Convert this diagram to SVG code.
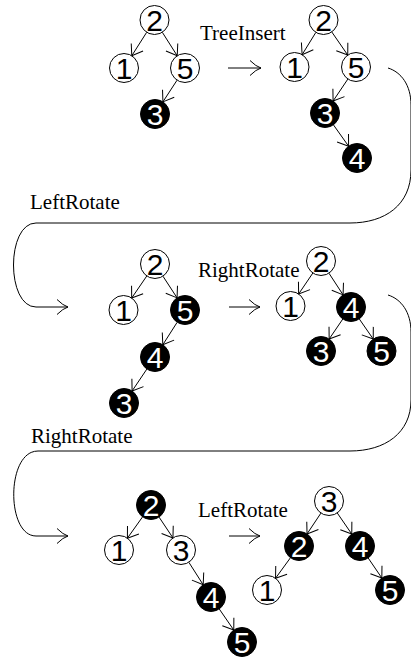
<svg xmlns="http://www.w3.org/2000/svg" width="411" height="660" viewBox="0 0 411 660">
  <style>
    .edge { fill: none; stroke: #000; stroke-width: 1; marker-end: url(#tip); }
    .step { fill: none; stroke: #000; stroke-width: 1; marker-end: url(#tex); }
    .wnode circle { fill: #fff; stroke: #000; stroke-width: 1; }
    .bnode circle { fill: #000; stroke: #000; stroke-width: 1; }
    .wnode text, .bnode text { font-family: "Liberation Sans", Arial, sans-serif; font-size: 30px; text-anchor: middle; }
    .wnode text { fill: #000; }
    .bnode text { fill: #fff; }
    .label { font-family: "Liberation Serif", "Times New Roman", serif; font-size: 21px; fill: #000; }
  </style>
  <defs>
    <marker id="tip" markerUnits="userSpaceOnUse" orient="auto" refX="0" refY="0" viewBox="-12 -9 14 18" markerWidth="14" markerHeight="18" overflow="visible">
      <path d="M -10 -7 L 0 0 L -10 7" fill="none" stroke="#000" stroke-width="1"/>
    </marker>
    <marker id="tex" markerUnits="userSpaceOnUse" orient="auto" refX="0" refY="0" viewBox="-13 -9 15 18" markerWidth="15" markerHeight="18" overflow="visible">
      <path d="M -11 -7.5 Q -5 -1.5 0 0 Q -5 1.5 -11 7.5" fill="none" stroke="#000" stroke-width="1"/>
    </marker>
  </defs>

  <!-- step labels -->
  <g id="labels">
    <text class="label" x="200" y="40">TreeInsert</text>
    <text class="label" x="30" y="209">LeftRotate</text>
    <text class="label" x="198" y="277">RightRotate</text>
    <text class="label" x="31" y="443">RightRotate</text>
    <text class="label" x="198" y="517">LeftRotate</text>
  </g>

  <g id="connectors">
    <!-- transitions between trees -->
    <path class="step" d="M 228 68 L 261 68"/>
    <path class="step" d="M 229 307 L 260 307"/>
    <path class="step" d="M 229 536 L 260 536"/>
    <path class="step" d="M 388 68 C 401 72 411 85 411 105 L 411 170 C 411 205 385 223 350 223 L 36 223 C 6 223 6 307 36 307 L 68 307"/>
    <path class="step" d="M 388 295 C 401 299 411 312 411 332 L 411 400 C 411 433 385 451 350 451 L 38 451 C 6 451 6 536 36 536 L 68 536"/>

    <!-- tree 1 -->
    <path class="edge" d="M 146.72 32.24 L 131.78 55.76"/>
    <path class="edge" d="M 162.28 32.24 L 177.22 55.76"/>
    <path class="edge" d="M 177.08 80.15 L 162.92 101.85"/>
    <!-- tree 2 -->
    <path class="edge" d="M 315.89 32.34 L 302.11 54.66"/>
    <path class="edge" d="M 331.75 31.93 L 347.75 55.07"/>
    <path class="edge" d="M 347.90 79.02 L 333.10 100.98"/>
    <path class="edge" d="M 333.40 124.82 L 348.60 146.18"/>
    <!-- tree 3 -->
    <path class="edge" d="M 146.81 275.96 L 131.69 298.04"/>
    <path class="edge" d="M 162.92 276.15 L 177.08 297.85"/>
    <path class="edge" d="M 177.20 322.22 L 162.80 344.78"/>
    <path class="edge" d="M 146.90 369.02 L 132.10 390.98"/>
    <!-- tree 4 -->
    <path class="edge" d="M 312.86 273.00 L 298.64 294.00"/>
    <path class="edge" d="M 328.92 273.15 L 343.08 294.85"/>
    <path class="edge" d="M 342.83 318.98 L 329.17 339.02"/>
    <path class="edge" d="M 359.26 318.92 L 373.24 339.08"/>
    <!-- tree 5 -->
    <path class="edge" d="M 142.60 516.82 L 127.40 538.18"/>
    <path class="edge" d="M 159.04 517.07 L 172.96 537.93"/>
    <path class="edge" d="M 188.80 562.22 L 203.20 584.78"/>
    <path class="edge" d="M 219.23 608.94 L 233.77 630.06"/>
    <!-- tree 6 -->
    <path class="edge" d="M 320.96 513.07 L 307.04 533.93"/>
    <path class="edge" d="M 337.23 512.94 L 351.77 534.06"/>
    <path class="edge" d="M 290.47 557.73 L 275.53 578.27"/>
    <path class="edge" d="M 368.17 557.98 L 381.83 578.02"/>
  </g>

  <!-- tree 1 -->
  <g id="t1-n2" class="wnode"><circle cx="154.5" cy="20" r="14.5"/><text x="154.5" y="30.7">2</text></g>
  <g id="t1-n1" class="wnode"><circle cx="124" cy="68" r="14.5"/><text x="124" y="78.7">1</text></g>
  <g id="t1-n5" class="wnode"><circle cx="185" cy="68" r="14.5"/><text x="185" y="78.7">5</text></g>
  <g id="t1-n3" class="bnode"><circle cx="155" cy="114" r="14.5"/><text x="155" y="124.7">3</text></g>

  <!-- tree 2 -->
  <g id="t2-n2" class="wnode"><circle cx="323.5" cy="20" r="14.5"/><text x="323.5" y="30.7">2</text></g>
  <g id="t2-n1" class="wnode"><circle cx="294.5" cy="67" r="14.5"/><text x="294.5" y="77.7">1</text></g>
  <g id="t2-n5" class="wnode"><circle cx="356" cy="67" r="14.5"/><text x="356" y="77.7">5</text></g>
  <g id="t2-n3" class="bnode"><circle cx="325" cy="113" r="14.5"/><text x="325" y="123.7">3</text></g>
  <g id="t2-n4" class="bnode"><circle cx="357" cy="158" r="14.5"/><text x="357" y="168.7">4</text></g>

  <!-- tree 3 -->
  <g id="t3-n2" class="wnode"><circle cx="155" cy="264" r="14.5"/><text x="155" y="274.7">2</text></g>
  <g id="t3-n1" class="wnode"><circle cx="123.5" cy="310" r="14.5"/><text x="123.5" y="320.7">1</text></g>
  <g id="t3-n5" class="bnode"><circle cx="185" cy="310" r="14.5"/><text x="185" y="320.7">5</text></g>
  <g id="t3-n4" class="bnode"><circle cx="155" cy="357" r="14.5"/><text x="155" y="367.7">4</text></g>
  <g id="t3-n3" class="bnode"><circle cx="124" cy="403" r="14.5"/><text x="124" y="413.7">3</text></g>

  <!-- tree 4 -->
  <g id="t4-n2" class="wnode"><circle cx="321" cy="261" r="14.5"/><text x="321" y="271.7">2</text></g>
  <g id="t4-n1" class="wnode"><circle cx="290.5" cy="306" r="14.5"/><text x="290.5" y="316.7">1</text></g>
  <g id="t4-n4" class="bnode"><circle cx="351" cy="307" r="14.5"/><text x="351" y="317.7">4</text></g>
  <g id="t4-n3" class="bnode"><circle cx="321" cy="351" r="14.5"/><text x="321" y="361.7">3</text></g>
  <g id="t4-n5" class="bnode"><circle cx="381.5" cy="351" r="14.5"/><text x="381.5" y="361.7">5</text></g>

  <!-- tree 5 -->
  <g id="t5-n2" class="bnode"><circle cx="151" cy="505" r="14.5"/><text x="151" y="515.7">2</text></g>
  <g id="t5-n1" class="wnode"><circle cx="119" cy="550" r="14.5"/><text x="119" y="560.7">1</text></g>
  <g id="t5-n3" class="wnode"><circle cx="181" cy="550" r="14.5"/><text x="181" y="560.7">3</text></g>
  <g id="t5-n4" class="bnode"><circle cx="211" cy="597" r="14.5"/><text x="211" y="607.7">4</text></g>
  <g id="t5-n5" class="bnode"><circle cx="242" cy="642" r="14.5"/><text x="242" y="652.7">5</text></g>

  <!-- tree 6 -->
  <g id="t6-n3" class="wnode"><circle cx="329" cy="501" r="14.5"/><text x="329" y="511.7">3</text></g>
  <g id="t6-n2" class="bnode"><circle cx="299" cy="546" r="14.5"/><text x="299" y="556.7">2</text></g>
  <g id="t6-n4" class="bnode"><circle cx="360" cy="546" r="14.5"/><text x="360" y="556.7">4</text></g>
  <g id="t6-n1" class="wnode"><circle cx="267" cy="590" r="14.5"/><text x="267" y="600.7">1</text></g>
  <g id="t6-n5" class="bnode"><circle cx="390" cy="590" r="14.5"/><text x="390" y="600.7">5</text></g>
</svg>
